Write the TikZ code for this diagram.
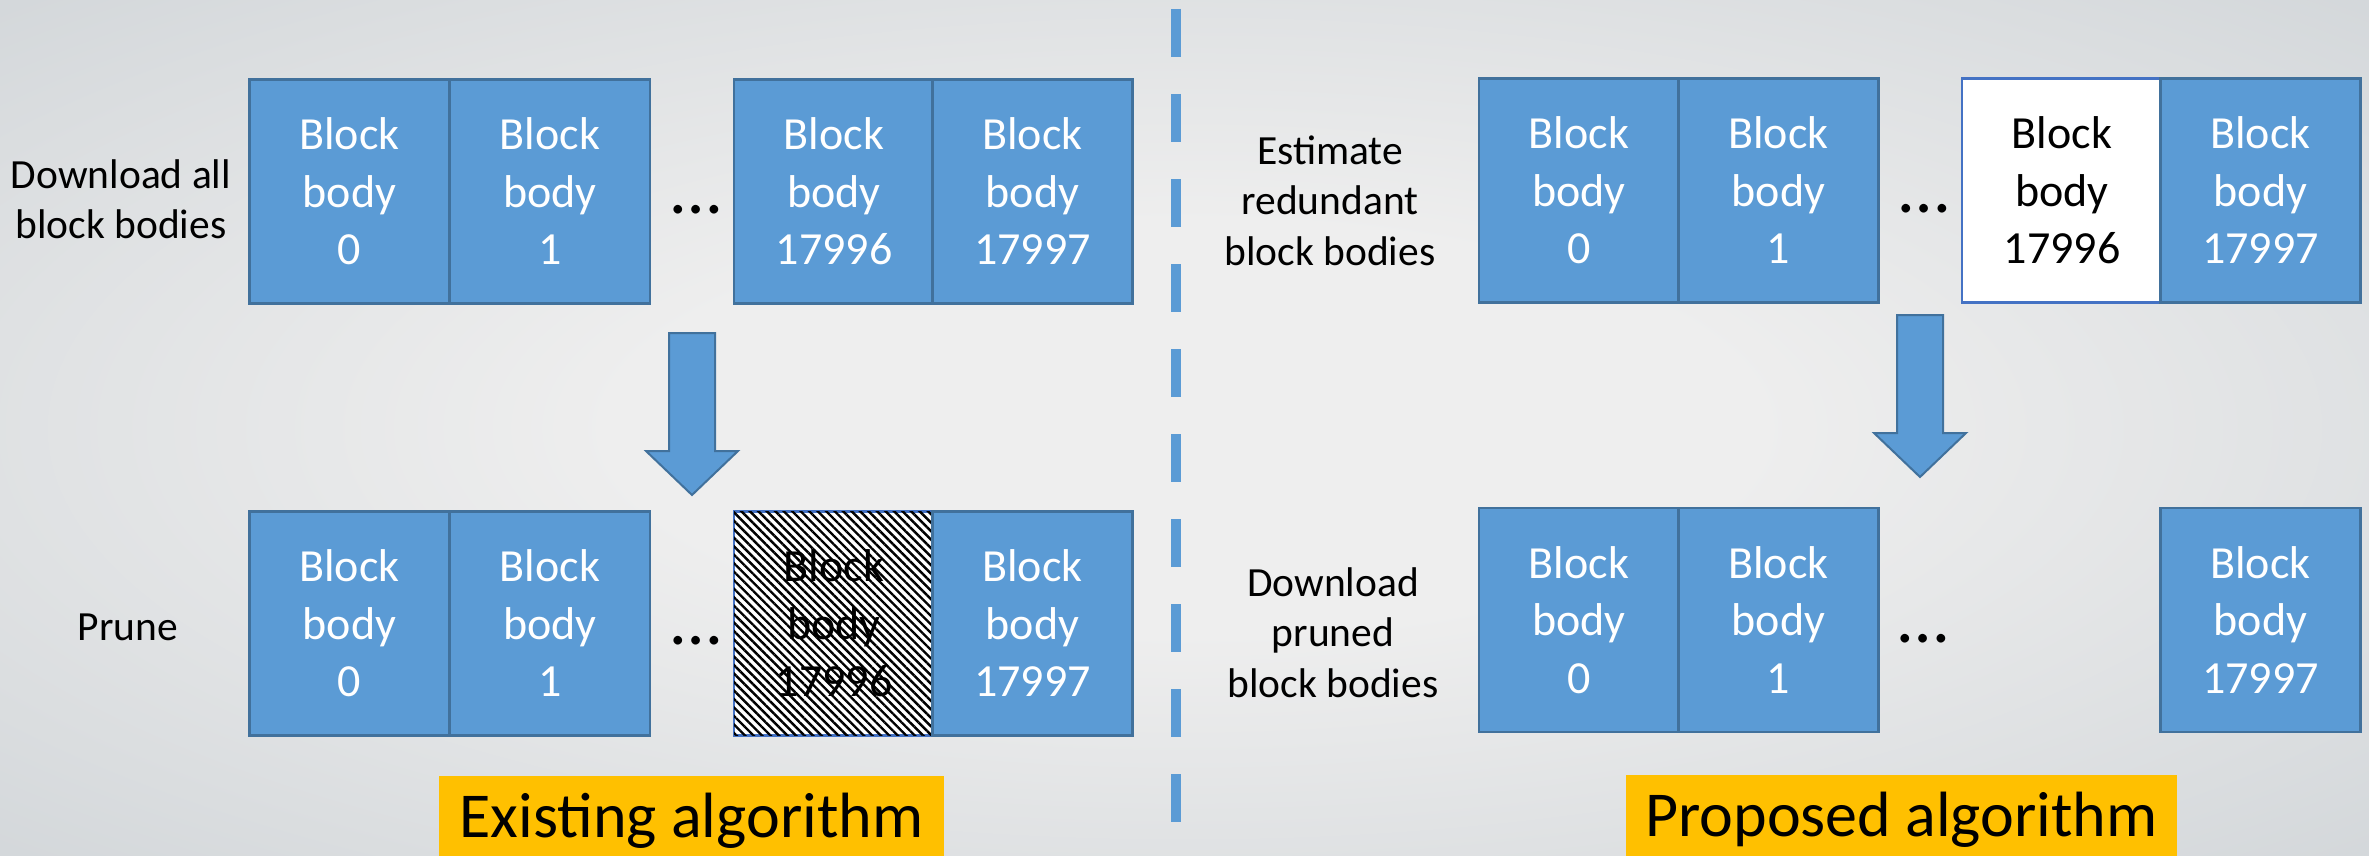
\documentclass[tikz,border=0pt]{standalone}
\usepackage{fontspec}
\setmainfont{Carlito}
\usetikzlibrary{patterns.meta}

\definecolor{blockblue}{HTML}{5B9BD5}
\definecolor{blockedge}{HTML}{41719C}
\definecolor{markedge}{HTML}{4472C4}
\definecolor{tagyellow}{HTML}{FFC000}
\definecolor{bginner}{HTML}{EEEEEE}
\definecolor{bgouter}{HTML}{D3D7DA}

\pgfdeclareradialshading{backdrop}{\pgfpoint{0bp}{0bp}}{%
  color(0bp)=(bginner); color(12bp)=(bginner); color(36bp)=(bgouter); color(50bp)=(bgouter)}

\tikzset{
  blockbox/.style={draw=blockedge, line width=2.5pt, fill=blockblue, text=white,
    minimum width=200pt, minimum height=224pt, inner sep=0pt, align=center,
    font=\fontsize{46}{57.5}\selectfont},
  prunedbox/.style={blockbox, fill=white, draw=markedge, text=black,
    postaction={pattern={Lines[angle=-45, distance=6pt, line width=2.4pt]}}},
  keptbox/.style={blockbox, fill=white, draw=markedge, text=black},
  sidelabel/.style={align=center, inner sep=0pt, font=\fontsize{41.5}{50.5}\selectfont},
  gap/.style={inner sep=0pt, anchor=base, font=\fontsize{72}{72}\selectfont},
  tag/.style={fill=tagyellow, inner sep=0pt, anchor=north, text height=61pt,
    text depth=40pt, font=\fontsize{64}{64}\selectfont},
  downarrow/.style={fill=blockblue, draw=blockedge, line width=2pt, line join=miter},
  divider/.style={draw=blockblue, line width=10pt, dash pattern=on 48pt off 37pt}
}

\begin{document}
\begin{tikzpicture}[x=1pt, y=-1pt]
\useasboundingbox (0,0) rectangle (2369,856);
\shade[shading=backdrop] (0,0) rectangle (2369,856);

% ---------- existing algorithm ----------
\node[sidelabel] (lbl-dl) at (121,199) {Download all\\block bodies};
\node[blockbox] (a0) at (349.5,191.5) {Block\\body\\0};
\node[blockbox] (a1) at (550,191.5) {Block\\body\\1};
\node[gap] (adots) at (696,213) {…};
\node[blockbox] (a2) at (834,191.5) {Block\\body\\17996};
\node[blockbox] (a3) at (1032.5,191.5) {Block\\body\\17997};

\coordinate (arrA) at (692,333);
\draw[downarrow] (arrA) ++(-23,0) -- ++(0,118) -- ++(-23,0) -- ++(46,44)
  -- ++(46,-44) -- ++(-23,0) -- ++(0,-118) -- cycle;

\node[sidelabel] (lbl-pr) at (128,627) {Prune};
\node[blockbox] (b0) at (349.5,623.5) {Block\\body\\0};
\node[blockbox] (b1) at (550,623.5) {Block\\body\\1};
\node[gap] (bdots) at (696,644) {…};
\node[prunedbox] (b2) at (834,623.5) {Block\\body\\17996};
\node[blockbox] (b3) at (1032.5,623.5) {Block\\body\\17997};

\node[tag, minimum width=505pt] (tag-old) at (691.5,776) {Existing algorithm};

% ---------- divider ----------
\coordinate (divtop) at (1176,9);
\coordinate (divbot) at (1176,823);
\draw[divider] (divtop) -- (divbot);

% ---------- proposed algorithm ----------
\node[sidelabel] (lbl-est) at (1330,200.5) {Estimate\\redundant\\block bodies};
\node[blockbox] (c0) at (1579,190.5) {Block\\body\\0};
\node[blockbox] (c1) at (1778.5,190.5) {Block\\body\\1};
\node[gap] (cdots) at (1924.5,212) {…};
\node[keptbox] (c2) at (2062,190.5) {Block\\body\\17996};
\node[blockbox] (c3) at (2260.5,190.5) {Block\\body\\17997};

\coordinate (arrB) at (1920,315);
\draw[downarrow] (arrB) ++(-23,0) -- ++(0,118) -- ++(-23,0) -- ++(46,44)
  -- ++(46,-44) -- ++(-23,0) -- ++(0,-118) -- cycle;

\node[sidelabel] (lbl-dp) at (1333,632.5) {Download\\pruned\\block bodies};
\node[blockbox] (d0) at (1579,620) {Block\\body\\0};
\node[blockbox] (d1) at (1778.5,620) {Block\\body\\1};
\node[gap] (ddots) at (1923.5,642) {…};
\node[blockbox] (d3) at (2260.5,620) {Block\\body\\17997};

\node[tag, minimum width=551pt] (tag-new) at (1901.5,775) {Proposed algorithm};
\end{tikzpicture}
\end{document}
